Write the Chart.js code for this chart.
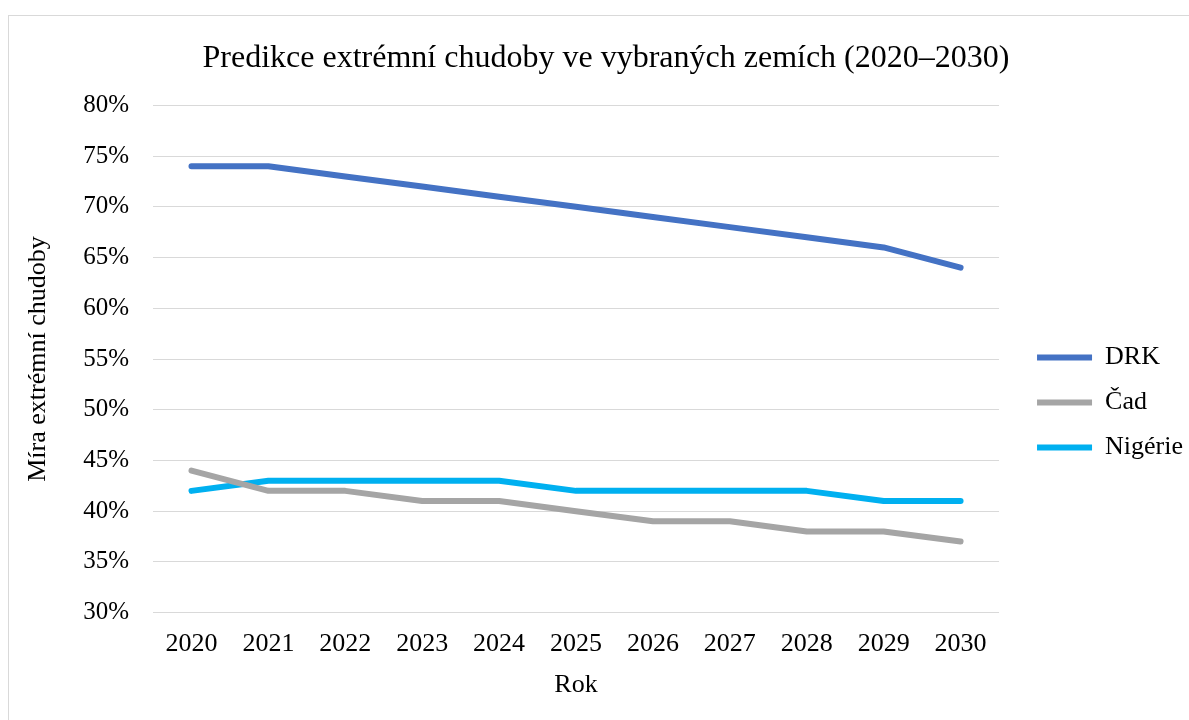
<!DOCTYPE html>
<html>
<head>
<meta charset="utf-8">
<script src="https://cdn.jsdelivr.net/npm/chart.js@4"></script>
<style>
  html, body { margin: 0; padding: 0; background: #fff; overflow: hidden; }
  #frame {
    position: absolute; left: 8px; top: 15px;
    width: 1200px; height: 720px;
    border: 1px solid #d9d9d9;
  }
  #wrap { position: absolute; left: 9px; top: 16px; width: 1184px; height: 704px; }
</style>
</head>
<body>
<div id="frame"></div>
<div id="wrap"><canvas id="chudobaChart"></canvas></div>
<script>
const years = ["2020", "2021", "2022", "2023", "2024", "2025", "2026", "2027", "2028", "2029", "2030"];
const drk = [74, 74, 73, 72, 71, 70, 69, 68, 67, 66, 64];
const cad = [44, 42, 42, 41, 41, 40, 39, 39, 38, 38, 37];
const nigerie = [42, 43, 43, 43, 43, 42, 42, 42, 42, 41, 41];

const serif = "'Liberation Serif', 'Times New Roman', serif";

function serie(label, data, color) {
  return {
    label: label,
    data: data,
    borderColor: color,
    backgroundColor: color,
    borderWidth: 6,
    borderCapStyle: 'round',
    borderJoinStyle: 'round',
    pointRadius: 0,
    pointHoverRadius: 0,
    tension: 0,
    fill: false,
  };
}

new Chart(document.getElementById('chudobaChart'), {
  type: 'line',
  data: {
    labels: years,
    datasets: [
      serie("DRK", drk, '#4472c4'),
      serie("Čad", cad, '#a5a5a5'),
      serie("Nigérie", nigerie, '#00b0f0'),
    ]
  },
  options: {
    responsive: true,
    maintainAspectRatio: false,
    animation: false,
    layout: {
      padding: { left: 10, right: 0, top: 23, bottom: 15 }
    },
    plugins: {
      title: {
        display: true,
        text: 'Predikce extrémní chudoby ve vybraných zemích (2020–2030)',
        color: '#000',
        font: { family: serif, size: 32, weight: 'normal' },
        padding: { top: 0, bottom: 28 }
      },
      tooltip: { enabled: false },
      legend: {
        display: true,
        position: 'right',
        title: {
          display: true,
          text: '',
          padding: { top: 37, bottom: 0 },
          font: { family: serif, size: 20 }
        },
        labels: {
          color: '#000',
          font: { family: serif, size: 26 },
          boxWidth: 55,
          boxHeight: 6,
          padding: 19,
          generateLabels: function (chart) {
            return chart.data.datasets.map(function (ds, i) {
              return {
                text: ds.label,
                fillStyle: ds.borderColor,
                strokeStyle: ds.borderColor,
                lineWidth: 0,
                fontColor: '#000',
                datasetIndex: i,
                hidden: false,
              };
            });
          }
        }
      }
    },
    scales: {
      x: {
        offset: true,
        grid: { display: false },
        border: { display: false },
        ticks: {
          color: '#000',
          font: { family: serif, size: 26 },
          padding: 8,
        },
        title: {
          display: true,
          text: 'Rok',
          color: '#000',
          font: { family: serif, size: 26 },
          padding: { top: 2 }
        }
      },
      y: {
        min: 30,
        max: 80,
        grid: { color: '#d9d9d9', lineWidth: 1, drawTicks: false },
        border: { display: false },
        ticks: {
          stepSize: 5,
          color: '#000',
          font: { family: serif, size: 25 },
          padding: 24,
          callback: function (value) {
            return value + '%';
          }
        },
        title: {
          display: true,
          text: 'Míra extrémní chudoby',
          color: '#000',
          font: { family: serif, size: 26 },
          padding: { bottom: 5 }
        }
      },
      // prazdna osa vpravo jen jako mezera mezi grafem a legendou
      mezera: {
        position: 'right',
        display: true,
        grid: { display: false },
        border: { display: false },
        ticks: { display: false },
        afterFit: function (scale) {
          scale.width = 19;
        }
      }
    }
  }
});
</script>
</body>
</html>
